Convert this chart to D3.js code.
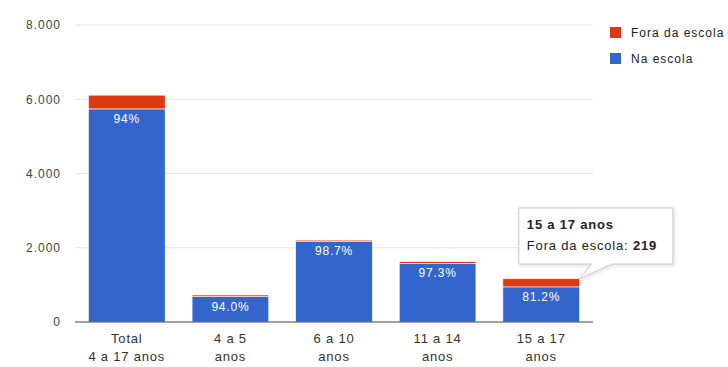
<!DOCTYPE html>
<html>
<head>
<meta charset="utf-8">
<script src="https://cdn.jsdelivr.net/npm/d3@7"></script>
<style>
  body { margin: 0; background: #fff; }
  svg { font-family: "Liberation Sans", Arial, sans-serif; }
</style>
</head>
<body>
<svg id="chart" width="728" height="367"></svg>
<script>
// categories (two-line labels) and series
var categories = ["Total|4 a 17 anos", "4 a 5|anos", "6 a 10|anos", "11 a 14|anos", "15 a 17|anos"];
var naEscola = [5740, 683, 2178, 1581, 946];
var foraEscola = [370, 44, 29, 44, 219];
var pctLabels = ["94%", "94.0%", "98.7%", "97.3%", "81.2%"];
var yTicks = [0, 2000, 4000, 6000, 8000];
var seriesNames = ["Fora da escola", "Na escola"];
var colors = { "Na escola": "#3366cc", "Fora da escola": "#dc3912" };

var svg = d3.select("svg#chart");
var margin = { top: 25, left: 75, right: 135, bottom: 45 };
var width = 728 - margin.left - margin.right;
var height = 367 - margin.top - margin.bottom;

var g = svg.append("g")
  .attr("transform", "translate(" + margin.left + "," + margin.top + ")");

var x = d3.scaleBand()
  .domain(categories)
  .range([0, width])
  .paddingInner(0.26)
  .paddingOuter(0.13);

var y = d3.scaleLinear()
  .domain([0, 8000])
  .range([height, 0]);

var fmt = function(d) { return d3.format(",")(d).replace(/,/g, "."); };

// gridlines
g.append("g")
  .selectAll("line")
  .data(yTicks.slice(1))
  .enter()
  .append("line")
  .attr("x1", 0)
  .attr("x2", width)
  .attr("y1", function(d) { return y(d); })
  .attr("y2", function(d) { return y(d); })
  .attr("stroke", "#e4e4e4")
  .attr("stroke-width", 1);

// y axis labels
var yAxis = g.append("g")
  .call(d3.axisLeft(y).tickValues(yTicks).tickFormat(fmt).tickSize(0).tickPadding(14));
yAxis.select(".domain").remove();
yAxis.selectAll("text")
  .attr("fill", "#444")
  .style("font-size", "12px")
  .style("letter-spacing", "1px");

// stacked bars
var rows = categories.map(function(c, i) {
  return { cat: c, "Na escola": naEscola[i], "Fora da escola": foraEscola[i], pct: pctLabels[i] };
});
var stack = d3.stack().keys(["Na escola", "Fora da escola"])(rows);

g.append("g")
  .selectAll("g")
  .data(stack)
  .enter()
  .append("g")
  .attr("fill", function(d) { return colors[d.key]; })
  .selectAll("rect")
  .data(function(d) { return d; })
  .enter()
  .append("rect")
  .attr("x", function(d) { return x(d.data.cat); })
  .attr("y", function(d) { return y(d[1]); })
  .attr("height", function(d) { return y(d[0]) - y(d[1]); })
  .attr("width", x.bandwidth())
  .attr("stroke", "#fff")
  .attr("stroke-width", 0.6);

// percentage labels
g.append("g")
  .selectAll("text")
  .data(rows)
  .enter()
  .append("text")
  .attr("x", function(d) { return x(d.cat) + x.bandwidth() / 2; })
  .attr("y", function(d) { return y(d["Na escola"]) + 14; })
  .attr("text-anchor", "middle")
  .attr("fill", "#fff")
  .style("font-size", "12px")
  .style("letter-spacing", "0.8px")
  .text(function(d) { return d.pct; });

// baseline
g.append("line")
  .attr("x1", 0)
  .attr("x2", width)
  .attr("y1", y(0))
  .attr("y2", y(0))
  .attr("stroke", "#444")
  .attr("stroke-width", 1);

// x axis labels
var xl = g.append("g")
  .selectAll("text")
  .data(categories)
  .enter()
  .append("text")
  .attr("x", function(d) { return x(d) + x.bandwidth() / 2; })
  .attr("y", height + 21)
  .attr("text-anchor", "middle")
  .attr("fill", "#333")
  .style("font-size", "13px")
  .style("letter-spacing", "0.8px");
xl.selectAll("tspan")
  .data(function(d) { return d.split("|"); })
  .enter()
  .append("tspan")
  .attr("x", function() { var p = d3.select(this.parentNode).datum(); return x(p) + x.bandwidth() / 2; })
  .attr("dy", function(d, i) { return i === 0 ? 0 : 18; })
  .text(function(d) { return d; });

// legend
var legend = svg.append("g")
  .attr("transform", "translate(610,27)")
  .selectAll("g")
  .data(seriesNames)
  .enter()
  .append("g")
  .attr("transform", function(d, i) { return "translate(0," + i * 26 + ")"; });
legend.append("rect")
  .attr("width", 11)
  .attr("height", 11)
  .attr("fill", function(d) { return colors[d]; });
legend.append("text")
  .attr("x", 21)
  .attr("y", 5.5)
  .attr("dy", "0.35em")
  .attr("fill", "#222")
  .style("font-size", "12px")
  .style("letter-spacing", "1px")
  .text(function(d) { return d; });

// tooltip for the last category
var last = rows[rows.length - 1];
var tipX = x(last.cat) + 16, tipY = 208, tipW = 154, tipH = 56;
var anchorX = x(last.cat) + x.bandwidth() + margin.left;
var anchorY = y(last["Na escola"] + last["Fora da escola"]) + margin.top;
var tip = svg.append("g");
tip.append("path")
  .attr("d", "M" + (tipX + margin.left) + "," + tipY +
    " h" + tipW + " v" + tipH + " H" + (anchorX + 32) +
    " L" + anchorX + "," + anchorY +
    " L" + (anchorX + 12) + "," + (tipY + tipH) +
    " H" + (tipX + margin.left) + " Z")
  .attr("fill", "#fff")
  .attr("stroke", "#ccc")
  .attr("stroke-width", 1)
  .style("filter", "drop-shadow(1px 1px 2px rgba(0,0,0,0.15))");
var tt = tip.append("text")
  .attr("x", tipX + margin.left + 8)
  .attr("y", tipY + 21)
  .attr("fill", "#222")
  .style("font-size", "13px")
  .style("letter-spacing", "0.8px");
tt.append("tspan").attr("font-weight", "bold").text("15 a 17 anos");
var l2 = tip.append("text")
  .attr("x", tipX + margin.left + 8)
  .attr("y", tipY + 42)
  .attr("fill", "#222")
  .style("font-size", "13px")
  .style("letter-spacing", "0.8px");
l2.append("tspan").text("Fora da escola: ");
l2.append("tspan").attr("font-weight", "bold").text(last["Fora da escola"]);
</script>
</body>
</html>
